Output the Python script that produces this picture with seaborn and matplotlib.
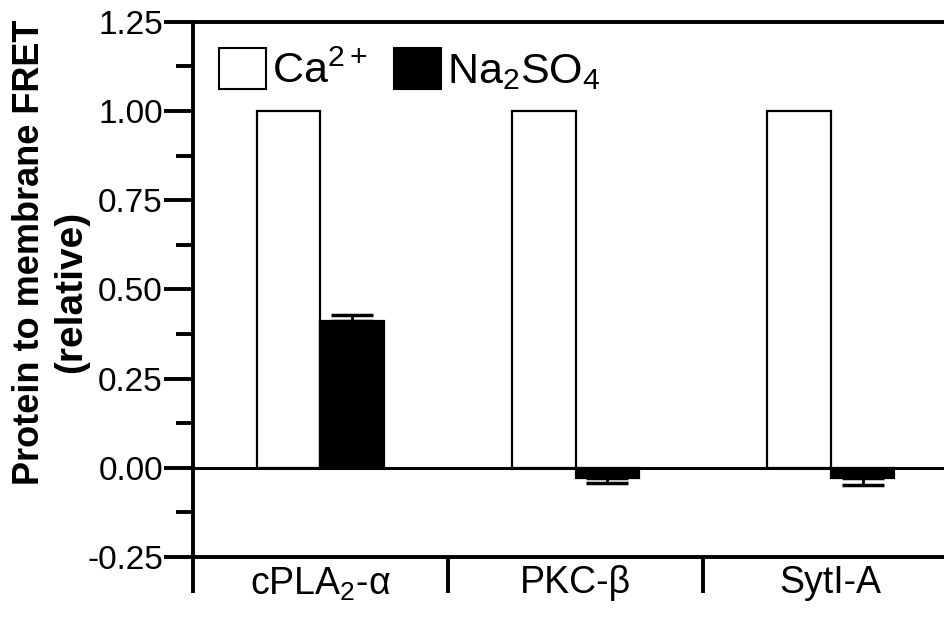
import numpy as np
import pandas as pd
import matplotlib
matplotlib.use("Agg")
import matplotlib.pyplot as plt
from matplotlib.ticker import FixedLocator, FuncFormatter
from matplotlib.patches import Patch
import seaborn as sns

# ---------------------------
# Data
# ---------------------------
proteins = ["cPLA$_2$-α", "PKC-β", "SytI-A"]
conditions = ["Ca$^{2+}$", "Na$_2$SO$_4$"]
ca_values = [1.00, 1.00, 1.00]
na_values = [0.41, -0.03, -0.03]
ca_errors = [0.0, 0.0, 0.0]
na_errors = [0.018, 0.012, 0.018]

df = pd.DataFrame({
    "Protein": proteins * 2,
    "Condition": [conditions[0]] * 3 + [conditions[1]] * 3,
    "FRET": ca_values + na_values,
    "Err": ca_errors + na_errors,
})

sns.set_style("ticks")
plt.rcParams["font.family"] = ["Liberation Sans", "DejaVu Sans"]
plt.rcParams["mathtext.fontset"] = "custom"
plt.rcParams["mathtext.rm"] = "Liberation Sans"
plt.rcParams["mathtext.it"] = "Liberation Sans"
for key in ["text.color", "axes.labelcolor", "xtick.color", "ytick.color", "axes.edgecolor"]:
    plt.rcParams[key] = "black"

fig = plt.figure(figsize=(9.45, 6.25), dpi=100)
ax = fig.add_axes([0.204, 0.109, 0.81, 0.856])

sns.barplot(data=df, x="Protein", y="FRET", hue="Condition",
            palette=["white", "black"], edgecolor="black", linewidth=1.6,
            width=0.5, errorbar=None, legend=False, ax=ax)

# one-sided error bars (away from zero), placed on the drawn bars
for patch, val, err in zip(ax.patches, df["FRET"], df["Err"]):
    if err <= 0:
        continue
    xc = patch.get_x() + patch.get_width() / 2
    yerr = [[0], [err]] if val >= 0 else [[err], [0]]
    ax.errorbar(xc, val, yerr=yerr, fmt="none", ecolor="black",
                elinewidth=2, capsize=15, capthick=2.5)

ax.axhline(0, color="black", lw=2.2, zorder=0)

ax.set_ylim(-0.25, 1.25)
ax.set_xlim(-0.5, 2.5)
ax.yaxis.set_major_locator(FixedLocator([-0.25, 0, 0.25, 0.5, 0.75, 1.0, 1.25]))
ax.yaxis.set_minor_locator(FixedLocator([-0.125, 0.125, 0.375, 0.625, 0.875, 1.125]))
ax.yaxis.set_major_formatter(FuncFormatter(lambda v, p: f"{v:.2f}"))
ax.tick_params(axis="y", which="major", length=21, width=2.8, labelsize=24, pad=0.5)
ax.tick_params(axis="y", which="minor", length=12, width=2.8)

# category separators on the x axis
ax.xaxis.set_minor_locator(FixedLocator([-0.5, 0.5, 1.5]))
ax.tick_params(axis="x", which="major", length=0, labelsize=27, pad=6)
ax.tick_params(axis="x", which="minor", length=26, width=2.8, direction="out")

# y label: two lines with their own centres, as in the original
ax.set_xlabel("")
ax.set_ylabel("Protein to membrane FRET", fontsize=26, fontweight="bold")
ax.yaxis.set_label_coords(-0.19, 0.57)
ax.text(-0.135, 0.495, "(relative)", transform=ax.transAxes, rotation=90,
        ha="right", va="center", fontsize=28, fontweight="bold")

for side in ["left", "bottom", "top"]:
    ax.spines[side].set_linewidth(2.8)
ax.spines["right"].set_visible(False)

handles = [Patch(facecolor="white", edgecolor="black", linewidth=1.5),
           Patch(facecolor="black", edgecolor="black", linewidth=1.5)]
ax.legend(handles, conditions, loc="upper left", bbox_to_anchor=(0.0, 1.0),
          ncol=2, frameon=False, fontsize=31, handlelength=1.1,
          handleheight=1.1, handletextpad=0.15, columnspacing=0.6,
          borderaxespad=0.2, borderpad=0.4)

fig.savefig("out.png", dpi=100)
